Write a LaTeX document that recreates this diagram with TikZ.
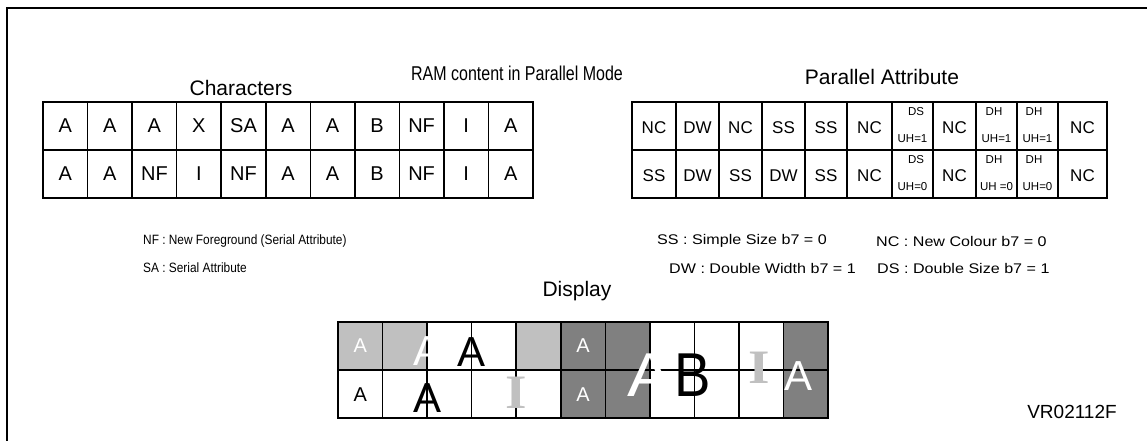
\documentclass[tikz,border=0pt]{standalone}
\usepackage{fontspec}
\setmainfont{Liberation Sans}
\newfontfamily\romanI{Liberation Serif}
\usepackage{xcolor}
\definecolor{lightcell}{HTML}{C0C0C0}
\definecolor{darkcell}{HTML}{808080}
\tikzset{
  frameline/.style={line width=2pt, black},
  cellline/.style={line width=1.6pt, black},
  headtext/.style={font=\fontsize{21}{24}\selectfont, inner sep=0pt},
  titletext/.style={font=\fontsize{20}{23}\selectfont, xscale=0.8, inner sep=0pt},
  celltext/.style={font=\fontsize{20}{24}\selectfont, inner sep=0pt},
  attrtext/.style={font=\fontsize{17}{20}\selectfont, inner sep=0pt},
  tinytext/.style={font=\fontsize{11.5}{13}\selectfont, inner sep=0pt},
  notetext/.style={font=\fontsize{13.5}{16}\selectfont, xscale=0.88, anchor=west, inner sep=0pt},
  noteright/.style={font=\fontsize{14}{16}\selectfont, xscale=1.15, anchor=west, inner sep=0pt},
  dspsmall/.style={font=\fontsize{20}{22}\selectfont, inner sep=0pt},
  dspwide/.style={font=\fontsize{42}{44}\selectfont, inner sep=0pt},
  dspdouble/.style={font=\fontsize{62}{64}\selectfont, xscale=1.1, inner sep=0pt},
  greyI/.style={font=\romanI\bfseries\fontsize{48}{50}\selectfont, lightcell, xscale=1.15, inner sep=0pt},
}

\begin{document}
\begin{tikzpicture}[x=1pt,y=1pt]
\useasboundingbox (0,0) rectangle (1147,-441);
\draw[frameline] (7,-441) -- (7,-8) -- (1147,-8);
% headings
\node[titletext] (title) at (517,-73) {RAM content in Parallel Mode};
\node[headtext] (chhead) at (241,-88) {Characters};
\node[headtext] (pahead) at (882,-77) {Parallel Attribute};
% characters grid
\draw[cellline] (43,-102) rectangle (533,-198) (43,-150) -- (533,-150)
  (87.5,-102) -- (87.5,-198) (132.1,-102) -- (132.1,-198) (176.6,-102) -- (176.6,-198)
  (221.2,-102) -- (221.2,-198) (265.7,-102) -- (265.7,-198) (310.3,-102) -- (310.3,-198)
  (354.8,-102) -- (354.8,-198) (399.4,-102) -- (399.4,-198) (443.9,-102) -- (443.9,-198)
  (488.5,-102) -- (488.5,-198);
\node[celltext] (chtop1) at (65.3,-126) {A};
\node[celltext] (chtop2) at (109.8,-126) {A};
\node[celltext] (chtop3) at (154.4,-126) {A};
\node[celltext] (chtop4) at (198.9,-126) {X};
\node[celltext] (chtop5) at (243.5,-126) {SA};
\node[celltext] (chtop6) at (288.0,-126) {A};
\node[celltext] (chtop7) at (332.5,-126) {A};
\node[celltext] (chtop8) at (377.1,-126) {B};
\node[celltext] (chtop9) at (421.6,-126) {NF};
\node[celltext] (chtop10) at (466.2,-126) {I};
\node[celltext] (chtop11) at (510.7,-126) {A};
\node[celltext] (chbot1) at (65.3,-174) {A};
\node[celltext] (chbot2) at (109.8,-174) {A};
\node[celltext] (chbot3) at (154.4,-174) {NF};
\node[celltext] (chbot4) at (198.9,-174) {I};
\node[celltext] (chbot5) at (243.5,-174) {NF};
\node[celltext] (chbot6) at (288.0,-174) {A};
\node[celltext] (chbot7) at (332.5,-174) {A};
\node[celltext] (chbot8) at (377.1,-174) {B};
\node[celltext] (chbot9) at (421.6,-174) {NF};
\node[celltext] (chbot10) at (466.2,-174) {I};
\node[celltext] (chbot11) at (510.7,-174) {A};
% parallel attribute grid
\draw[cellline] (632,-102) rectangle (1107,-198) (632,-150) -- (1107,-150)
  (676,-102) -- (676,-198) (719,-102) -- (719,-198) (762,-102) -- (762,-198)
  (805,-102) -- (805,-198) (847,-102) -- (847,-198) (892,-102) -- (892,-198)
  (933,-102) -- (933,-198) (976,-102) -- (976,-198) (1017,-102) -- (1017,-198)
  (1058,-102) -- (1058,-198);
\node[attrtext] (patop1) at (654,-128) {NC};
\node[attrtext] (patop2) at (697.5,-128) {DW};
\node[attrtext] (patop3) at (740.5,-128) {NC};
\node[attrtext] (patop4) at (783.5,-128) {SS};
\node[attrtext] (patop5) at (826,-128) {SS};
\node[attrtext] (patop6) at (869.5,-128) {NC};
\node[tinytext] (patop7) at (916,-112) {DS};
\node[tinytext] (patop7b) at (912.5,-139) {UH=1};
\node[attrtext] (patop8) at (954.5,-128) {NC};
\node[tinytext] (patop9) at (994,-112) {DH};
\node[tinytext] (patop9b) at (996.5,-139) {UH=1};
\node[tinytext] (patop10) at (1034,-112) {DH};
\node[tinytext] (patop10b) at (1037.5,-139) {UH=1};
\node[attrtext] (patop11) at (1082.5,-128) {NC};
\node[attrtext] (pabot1) at (654,-176) {SS};
\node[attrtext] (pabot2) at (697.5,-176) {DW};
\node[attrtext] (pabot3) at (740.5,-176) {SS};
\node[attrtext] (pabot4) at (783.5,-176) {DW};
\node[attrtext] (pabot5) at (826,-176) {SS};
\node[attrtext] (pabot6) at (869.5,-176) {NC};
\node[tinytext] (pabot7) at (916,-160) {DS};
\node[tinytext] (pabot7b) at (912.5,-187) {UH=0};
\node[attrtext] (pabot8) at (954.5,-176) {NC};
\node[tinytext] (pabot9) at (994,-160) {DH};
\node[tinytext] (pabot9b) at (996.5,-187) {UH =0};
\node[tinytext] (pabot10) at (1034,-160) {DH};
\node[tinytext] (pabot10b) at (1037.5,-187) {UH=0};
\node[attrtext] (pabot11) at (1082.5,-176) {NC};
% legend
\node[notetext] (notenf) at (143,-241) {NF : New Foreground (Serial Attribute)};
\node[notetext] (notesa) at (143,-268) {SA : Serial Attribute};
\node[noteright] (notess) at (657,-241) {SS : Simple Size b7 = 0};
\node[noteright] (notenc) at (876,-241) {NC : New Colour b7 = 0};
\node[noteright] (notedw) at (669,-268) {DW : Double Width b7 = 1};
\node[noteright] (noteds) at (877,-268) {DS : Double Size b7 = 1};
% display
\node[headtext] (dsphead) at (577,-291) {Display};
\fill[lightcell] (338,-322) rectangle (427.1,-370);
\fill[lightcell] (516.2,-322) rectangle (560.7,-370);
\fill[darkcell] (560.7,-322) rectangle (649.8,-418);
\fill[darkcell] (783.5,-322) rectangle (828,-418);
\draw[cellline] (338,-322) rectangle (828,-418) (338,-370) -- (828,-370)
  (382.5,-322) -- (382.5,-418) (427.1,-322) -- (427.1,-418) (471.6,-322) -- (471.6,-418)
  (516.2,-322) -- (516.2,-418) (560.7,-322) -- (560.7,-418) (605.3,-322) -- (605.3,-418)
  (649.8,-322) -- (649.8,-418) (694.4,-322) -- (694.4,-418) (738.9,-322) -- (738.9,-418)
  (783.5,-322) -- (783.5,-418);
\node[dspsmall, white] (dsptop1) at (360.3,-346) {A};
\node[dspwide, white] (dsptop2) at (427.1,-351) {A};
\node[dspwide] (dsptop3) at (471.6,-352) {A};
\node[dspsmall, white] (dsptop6) at (583,-346) {A};
\node[dspsmall] (dspbot1) at (360.3,-395) {A};
\node[dspwide] (dspbot2) at (427.1,-398) {A};
\node[greyI] (dspbot4) at (516.2,-393) {I};
\node[dspsmall, white] (dspbot6) at (583,-395) {A};
\node[dspdouble, white] (dspmid7) at (649.8,-375) {A};
\node[dspdouble, xscale=0.8] (dspmid8) at (693,-375) {B};
\node[greyI] (dspmid10) at (759,-368) {I};
\node[dspwide, white] (dspmid11) at (798.5,-376) {A};
\node[headtext, font=\fontsize{19}{22}\selectfont] (figid) at (1072,-412) {VR02112F};
\end{tikzpicture}
\end{document}
